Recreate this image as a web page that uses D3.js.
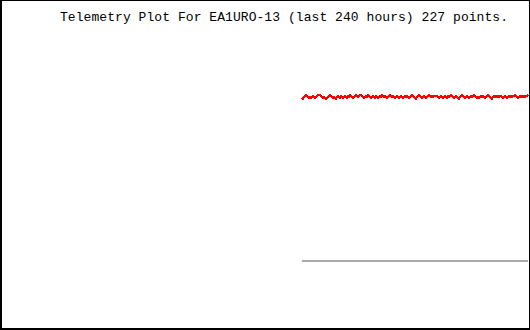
<!DOCTYPE html>
<html>
<head>
<meta charset="utf-8">
<script src="https://cdn.jsdelivr.net/npm/d3@7"></script>
<style>
html,body{margin:0;padding:0;background:#fff;}
svg{display:block;}
</style>
</head>
<body>
<script>
const title = "Telemetry Plot For EA1URO-13 (last 240 hours) 227 points.";
const channelA = [
163,162,164,165,166,165,164,163,164,163,164,165,164,163,164,165,166,166,166,165,
164,163,164,163,162,163,164,165,166,165,164,163,164,163,162,164,165,164,163,165,
164,163,164,165,164,163,165,164,166,165,164,163,164,165,166,165,164,165,166,166,
165,164,163,164,165,164,166,165,164,163,164,165,164,163,165,164,163,164,165,164,
166,165,164,165,164,163,164,165,166,165,164,165,164,163,164,165,164,163,164,165,
164,163,164,165,164,165,164,163,164,165,166,165,164,163,162,164,165,166,165,164,
163,164,165,164,163,164,165,166,165,164,165,164,165,165,165,165,164,163,164,165,
164,163,164,165,164,163,165,164,165,166,165,164,163,164,165,164,163,162,164,165,
166,165,164,163,164,165,164,163,164,165,164,165,166,165,164,163,164,163,164,165,
164,165,164,163,164,165,166,165,164,163,162,164,165,164,165,164,165,164,165,165,
164,163,164,165,164,163,164,165,164,165,164,165,165,166,165,164,163,164,165,164,
165,164,165,164,165,165,166
];
const channelB = channelA.map(() => 0);
const index = channelA.map((d, i) => i);

const W = 530, H = 330;
const svg = d3.select("body").append("svg").attr("width", W).attr("height", H);
svg.append("rect").attr("width", W).attr("height", H).attr("fill", "#fff");

const x = d3.scaleLinear().domain([0, index.length - 1]).range([302, 528]);
const y = d3.scaleLinear().domain([0, 170]).range([261, 91]);

const line = d3.line().x((d, i) => x(index[i])).y(d => y(d));

svg.append("path").datum(channelB).attr("d", line)
  .attr("fill", "none").attr("stroke", "#aaaaaa").attr("stroke-width", 2)
  .attr("shape-rendering", "crispEdges");
svg.append("path").datum(channelA).attr("d", line)
  .attr("fill", "none").attr("stroke", "#ff0000").attr("stroke-width", 1.8)
  .attr("shape-rendering", "crispEdges");

svg.append("text").attr("x", 60).attr("y", 21)
  .attr("font-family", "Liberation Mono, DejaVu Sans Mono, monospace").attr("font-size", 13)
  .attr("textLength", 448).attr("lengthAdjust", "spacing")
  .attr("fill", "#000").text(title);

// frame
svg.append("rect").attr("x", 0).attr("y", 0).attr("width", 2).attr("height", H).attr("fill", "#000");
svg.append("rect").attr("x", 0).attr("y", 0).attr("width", W).attr("height", 1).attr("fill", "#000");
svg.append("rect").attr("x", W - 1).attr("y", 0).attr("width", 1).attr("height", H).attr("fill", "#000");
svg.append("rect").attr("x", 0).attr("y", H - 2).attr("width", W).attr("height", 2).attr("fill", "#000");
</script>
</body>
</html>
